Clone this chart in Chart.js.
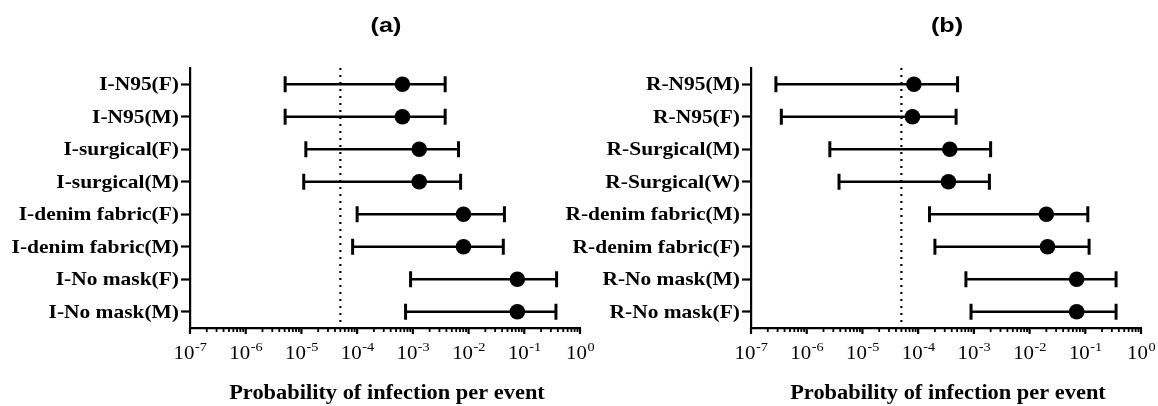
<!DOCTYPE html>
<html><head><meta charset="utf-8">
<script src="https://cdn.jsdelivr.net/npm/chart.js@4.4.1/dist/chart.umd.min.js"></script>
<style>
html,body{margin:0;padding:0;background:#fff;width:1158px;height:406px;overflow:hidden}
.p{position:absolute;top:0}
</style></head><body>
<div class="p" style="left:0"><canvas id="ca" width="600" height="406"></canvas></div>
<div class="p" style="left:540px"><canvas id="cb" width="618" height="406"></canvas></div>
<script>
// ---- data ----
const labelsA = ['I-N95(F)','I-N95(M)','I-surgical(F)','I-surgical(M)','I-denim fabric(F)','I-denim fabric(M)','I-No mask(F)','I-No mask(M)'];
const estA  = [6.5e-4, 6.5e-4, 1.3e-3, 1.3e-3, 8.1e-3, 8.1e-3, 0.075, 0.075];
const lowA  = [5.1e-6, 5.1e-6, 1.2e-5, 1.1e-5, 1.0e-4, 8.3e-5, 9.1e-4, 7.4e-4];
const highA = [3.8e-3, 3.8e-3, 6.6e-3, 7.2e-3, 0.044, 0.042, 0.38, 0.37];

const labelsB = ['R-N95(M)','R-N95(F)','R-Surgical(M)','R-Surgical(W)','R-denim fabric(M)','R-denim fabric(F)','R-No mask(M)','R-No mask(F)'];
const estB  = [8.4e-5, 7.9e-5, 3.7e-4, 3.5e-4, 0.020, 0.021, 0.070, 0.070];
const lowB  = [2.8e-7, 3.5e-7, 2.6e-6, 3.8e-6, 1.6e-4, 2.0e-4, 7.2e-4, 8.9e-4];
const highB = [5.1e-4, 4.8e-4, 2.0e-3, 1.9e-3, 0.111, 0.117, 0.357, 0.357];

const tickExponents = [-7,-6,-5,-4,-3,-2,-1,0];
const panelTitles = ['(a)','(b)'];
const axisTitle = 'Probability of infection per event';
const threshold = 5e-5;

function drawText(ctx, text, x, y, font, align, sx) {
  ctx.save();
  ctx.font = font;
  ctx.translate(x, y);
  ctx.scale(sx, 1);
  ctx.textAlign = align;
  ctx.textBaseline = 'alphabetic';
  ctx.fillStyle = '#000';
  ctx.fillText(text, 0, 0);
  ctx.restore();
}

function build(id, title, labels, est, low, high, yWidth, rightPad) {
  const datasets = labels.map((lab, i) => ({
    type: 'line',
    data: [{x: low[i], y: lab}, {x: high[i], y: lab}],
    showLine: true,
    borderColor: '#000',
    borderWidth: 2.5,
    pointStyle: 'line',
    pointRotation: 90,
    pointRadius: 8,
    pointBorderWidth: 3,
    pointBorderColor: '#000',
    pointBackgroundColor: '#000',
    order: 2
  }));
  datasets.push({
    type: 'scatter',
    data: labels.map((lab, i) => ({x: est[i], y: lab})),
    showLine: false,
    pointStyle: 'circle',
    pointRadius: 7.8,
    pointBackgroundColor: '#000',
    pointBorderColor: '#000',
    pointBorderWidth: 0,
    order: 1
  });

  const thresholdPlugin = {
    id: 'thr',
    beforeDatasetsDraw(chart) {
      const {ctx, chartArea: ca, scales: {x}} = chart;
      const px = x.getPixelForValue(threshold);
      ctx.save();
      ctx.strokeStyle = '#000';
      ctx.lineWidth = 2.2;
      ctx.setLineDash([2, 5]);
      ctx.beginPath();
      ctx.moveTo(px, ca.top);
      ctx.lineTo(px, ca.bottom + 5);
      ctx.stroke();
      ctx.restore();
    }
  };

  const decorPlugin = {
    id: 'decor',
    afterDraw(chart) {
      const {ctx, chartArea: ca, scales: {x, y}} = chart;
      labels.forEach((lab, i) => {
        const py = y.getPixelForValue(i);
        drawText(ctx, lab, y.right - 11, py + 6, 'bold 19.5px "Liberation Serif"', 'right', 1.1);
      });
      ctx.save();
      ctx.strokeStyle = '#000';
      tickExponents.forEach(k => {
        for (let m = 1; m <= 9; m++) {
          if (k === 0 && m > 1) break;
          const px = x.getPixelForValue(m * Math.pow(10, k));
          ctx.lineWidth = m === 1 ? 2.2 : 1.8;
          ctx.beginPath();
          ctx.moveTo(px, ca.bottom);
          ctx.lineTo(px, ca.bottom + (m === 1 ? 6 : 4));
          ctx.stroke();
        }
      });
      ctx.restore();
      tickExponents.forEach(k => {
        const px = x.getPixelForValue(Math.pow(10, k));
        const f1 = '19px "Liberation Serif"', f2 = '13px "Liberation Serif"';
        const sup = String(k);
        const sx = 1.1;
        ctx.font = f1; const w1 = ctx.measureText('10').width * sx;
        ctx.font = f2; const w2 = ctx.measureText(sup).width * sx;
        const start = px - (w1 + w2) / 2;
        drawText(ctx, '10', start, 359, f1, 'left', sx);
        drawText(ctx, sup, start + w1 + 0.5, 351, f2, 'left', sx);
      });
      const cx = (ca.left + ca.right) / 2;
      drawText(ctx, axisTitle, cx + 2, 399, 'bold 20px "Liberation Serif"', 'center', 1.12);
      drawText(ctx, title, cx + 1, 32, 'bold 21px "Liberation Sans"', 'center', 1.2);
    }
  };

  return new Chart(document.getElementById(id), {
    type: 'scatter',
    data: {datasets},
    options: {
      responsive: false,
      animation: false,
      devicePixelRatio: 1,
      events: [],
      layout: {padding: {left: 0, right: rightPad, top: 68, bottom: 0}},
      plugins: {legend: {display: false}, tooltip: {enabled: false}, title: {display: false}},
      scales: {
        x: {
          type: 'logarithmic', position: 'bottom', min: 1e-7, max: 1,
          ticks: {display: false},
          grid: {display: false},
          border: {display: true, color: '#000', width: 2.2},
          afterFit: s => { s.height = 78; }
        },
        y: {
          type: 'category', position: 'left', labels: labels, offset: true,
          ticks: {display: false},
          grid: {display: true, drawOnChartArea: false, drawTicks: true, tickLength: 9, tickWidth: 2.2, tickColor: '#000', color: '#000'},
          border: {display: true, color: '#000', width: 2.2},
          afterFit: s => { s.width = yWidth; }
        }
      }
    },
    plugins: [thresholdPlugin, decorPlugin]
  });
}

build('ca', panelTitles[0], labelsA, estA, lowA, highA, 190, 20);
build('cb', panelTitles[1], labelsB, estB, lowB, highB, 211, 17);
</script>
</body></html>
